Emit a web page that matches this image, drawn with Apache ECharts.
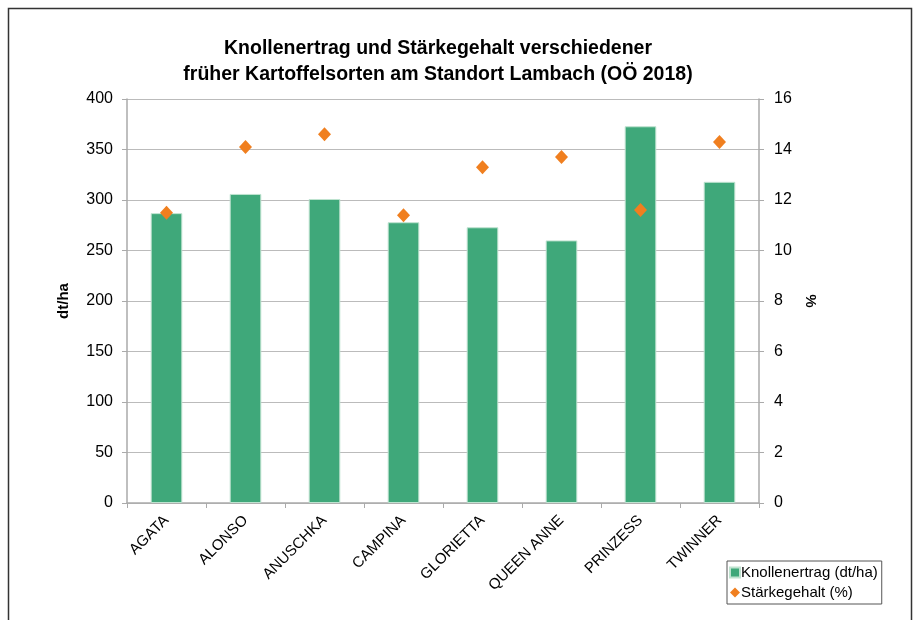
<!DOCTYPE html>
<html>
<head>
<meta charset="utf-8">
<script src="https://cdn.jsdelivr.net/npm/echarts@6/dist/echarts.min.js"></script>
<style>
  html, body { margin: 0; padding: 0; background: #fff; }
  #chart { width: 919px; height: 620px; }
</style>
</head>
<body>
<div id="chart"></div>
<script>
// Sorten
var sorten = ["AGATA", "ALONSO", "ANUSCHKA", "CAMPINA", "GLORIETTA", "QUEEN ANNE", "PRINZESS", "TWINNER"];
// Knollenertrag dt/ha
var ertrag = [287, 306, 301, 278, 273, 260, 373, 318];
// Stärkegehalt %
var staerke = [11.5, 14.1, 14.6, 11.4, 13.3, 13.7, 11.6, 14.3];

var font = "Liberation Sans, Arial, sans-serif";
var chart = echarts.init(document.getElementById("chart"));

var option = {
  animation: false,
  backgroundColor: "#fff",
  title: {
    text: "Knollenertrag und Stärkegehalt verschiedener\nfrüher Kartoffelsorten am Standort Lambach (OÖ 2018)",
    left: 433,
    top: 31,
    textAlign: "center",
    textStyle: { fontFamily: font, fontSize: 19.5, fontWeight: "bold", color: "#000", lineHeight: 26 }
  },
  legend: {
    orient: "vertical",
    left: 727,
    top: 561,
    itemGap: 5,
    itemWidth: 10,
    itemHeight: 10,
    padding: [4, 4, 4, 2],
    borderColor: "#555",
    borderWidth: 1,
    textStyle: { fontFamily: font, fontSize: 15, color: "#000", padding: [0, 0, 0, -4] },
    data: [
      { name: "Knollenertrag (dt/ha)", icon: "rect" },
      { name: "Stärkegehalt (%)", icon: "diamond" }
    ]
  },
  grid: { left: 127, right: 160, top: 99, bottom: 117 },
  xAxis: {
    type: "category",
    data: sorten,
    axisLine: { lineStyle: { color: "#aaa", width: 1.5 } },
    axisTick: { show: true, length: 5, lineStyle: { color: "#aaa" } },
    axisLabel: { rotate: 45, fontFamily: font, fontSize: 15, color: "#000", margin: 15 }
  },
  yAxis: [
    {
      type: "value",
      min: 0, max: 400, interval: 50,
      name: "dt/ha",
      nameLocation: "middle",
      nameGap: 56,
      nameTextStyle: { fontFamily: font, fontSize: 15, fontWeight: "bold", color: "#000" },
      axisLine: { show: true, lineStyle: { color: "#aaa", width: 1.5 } },
      axisTick: { show: true, length: 5, lineStyle: { color: "#aaa" } },
      axisLabel: { fontFamily: font, fontSize: 16, color: "#000", margin: 14 },
      splitLine: { lineStyle: { color: "#bbb", width: 1.2 } }
    },
    {
      type: "value",
      min: 0, max: 16, interval: 2,
      name: "%",
      nameLocation: "middle",
      nameGap: 42,
      nameRotate: -90,
      nameTextStyle: { fontFamily: font, fontSize: 15, fontWeight: "bold", color: "#000" },
      axisLine: { show: true, lineStyle: { color: "#aaa", width: 1.5 } },
      axisTick: { show: true, length: 5, lineStyle: { color: "#aaa" } },
      axisLabel: { fontFamily: font, fontSize: 16, color: "#000", margin: 15 },
      splitLine: { show: false }
    }
  ],
  series: [
    {
      name: "Knollenertrag (dt/ha)",
      type: "bar",
      data: ertrag,
      barWidth: "40%",
      itemStyle: { color: "#3fa87a", borderColor: "#bfe3d0", borderWidth: 1 }
    },
    {
      name: "Stärkegehalt (%)",
      type: "scatter",
      yAxisIndex: 1,
      data: staerke,
      symbol: "diamond",
      symbolSize: [13, 14],
      itemStyle: { color: "#f07f1f", opacity: 1 },
      z: 5
    }
  ],
  graphic: [
    {
      type: "rect",
      shape: { x: 8.5, y: 8.5, width: 903, height: 640 },
      style: { fill: null, stroke: "#333", lineWidth: 1.5 },
      silent: true
    }
  ]
};

chart.setOption(option);
</script>
</body>
</html>
